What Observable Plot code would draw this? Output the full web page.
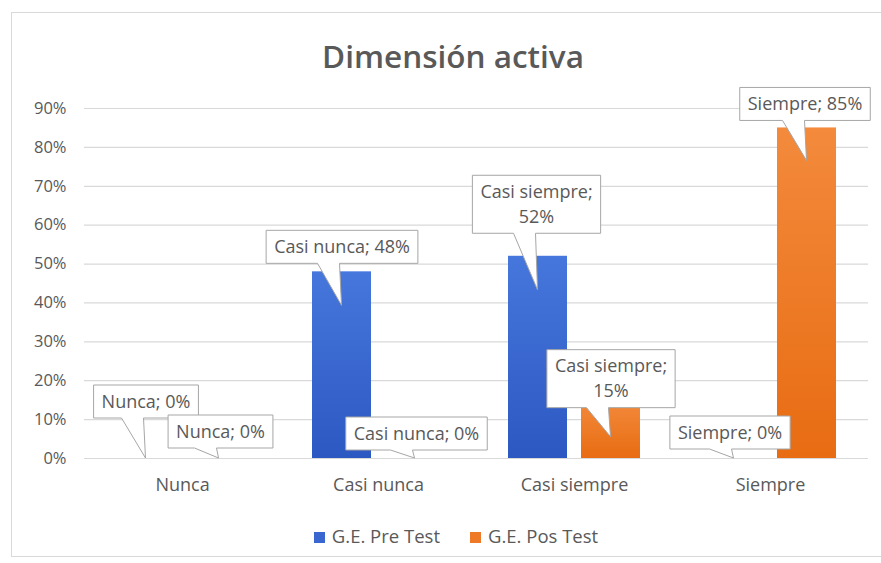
<!DOCTYPE html>
<html><head><meta charset="utf-8">
<script src="https://cdn.jsdelivr.net/npm/d3@7"></script>
<script src="https://cdn.jsdelivr.net/npm/@observablehq/plot@0.6"></script>
<style>
body{margin:0;background:#fff;width:881px;height:563px;overflow:hidden;position:relative;font-family:"Open Sans",sans-serif;}
#frame{position:absolute;left:11px;top:12px;width:880px;height:545px;border:1px solid #d9d9d9;border-right:none;box-sizing:border-box;}
#title{position:absolute;left:0;width:906px;top:35px;text-align:center;font-size:31.5px;font-weight:600;color:#595959;line-height:42px;}
#chart{position:absolute;left:0;top:80px;}
#legend{position:absolute;top:523px;left:0;width:912px;text-align:center;font-size:18.5px;color:#595959;line-height:26px;white-space:nowrap;}
#legend .sw{display:inline-block;width:11px;height:11px;margin-right:7px;vertical-align:0px;}
#legend .it{margin:0 15px;}
</style></head>
<body>
<div id="frame"></div>
<div id="title">Dimensión activa</div>
<div id="chart"></div>
<div id="legend"><span class="it"><span class="sw" style="background:#3a67cf"></span>G.E. Pre Test</span><span class="it"><span class="sw" style="background:#ee7a28"></span>G.E. Pos Test</span></div>
<script>
// ---- data ----
const categories = ["Nunca", "Casi nunca", "Casi siempre", "Siempre"];
const seriesNames = ["G.E. Pre Test", "G.E. Pos Test"];
const preTest = [0, 0.48, 0.52, 0];
const posTest = [0, 0, 0.15, 0.85];
const yTicks = [0, 0.1, 0.2, 0.3, 0.4, 0.5, 0.6, 0.7, 0.8, 0.9];

// ---- callout layout (pixel offsets of each label box from its bar top) ----
const preLabelDx = [0.5, 0.5, -1, -3.5];
const preLabelDy = [-56.5, -24.5, -51.5, -25.5];
const preTipDy = [0, 34, 34, 0];
const preWrap = [false, false, true, false];
const posLabelDx = [2, 2, 0.5, -1.5];
const posLabelDy = [-26.5, -24.5, -21, -23.5];
const posTipDy = [0, 0, 37, 33];
const posWrap = [false, false, true, false];

const preRows = categories.map((c, i) => ({category: c, value: preTest[i], side: -1, dx: preLabelDx[i], dy: preLabelDy[i], tip: preTipDy[i], wrap: preWrap[i]}));
const posRows = categories.map((c, i) => ({category: c, value: posTest[i], side: 1, dx: posLabelDx[i], dy: posLabelDy[i], tip: posTipDy[i], wrap: posWrap[i]}));
const allRows = preRows.concat(posRows);

const INNER = 32, OUTER = 105; // bar insets within each category band
const pct = d3.format(".0%");

function defsMark() {
  const defs = d3.create("svg:defs");
  const g1 = defs.append("linearGradient").attr("id", "gradPre").attr("x1", 0).attr("y1", 0).attr("x2", 0).attr("y2", 1);
  g1.append("stop").attr("offset", "0%").attr("stop-color", "#4677dc");
  g1.append("stop").attr("offset", "100%").attr("stop-color", "#2c58c2");
  const g2 = defs.append("linearGradient").attr("id", "gradPos").attr("x1", 0).attr("y1", 0).attr("x2", 0).attr("y2", 1);
  g2.append("stop").attr("offset", "0%").attr("stop-color", "#f38a3c");
  g2.append("stop").attr("offset", "100%").attr("stop-color", "#e86c12");
  return defs.node();
}

function calloutMark(index, scales) {
  const g = d3.create("svg:g").attr("class", "callouts");
  const bw = scales.x.bandwidth();
  const barW = bw - INNER - OUTER;
  for (const r of allRows) {
    const left = r.side < 0 ? INNER : OUTER;
    const cx = scales.x(r.category) + left + barW / 2;
    const cy = scales.y(r.value);
    const c = g.append("g").attr("class", "callout")
      .attr("data-bx", cx + r.dx).attr("data-by", cy + r.dy)
      .attr("data-tx", cx).attr("data-ty", cy + r.tip);
    c.append("path").attr("fill", "#fff").attr("stroke", "#a6a6a6").attr("stroke-width", 1);
    const lines = r.wrap ? [r.category + ";", pct(r.value)] : [r.category + "; " + pct(r.value)];
    const t = c.append("text").attr("text-anchor", "middle").attr("fill", "#595959")
      .attr("font-size", 18).attr("x", cx + r.dx);
    lines.forEach((ln, k) => {
      t.append("tspan").attr("x", cx + r.dx)
        .attr("y", cy + r.dy + (k - (lines.length - 1) / 2) * 25)
        .attr("dy", "0.35em").text(ln);
    });
  }
  return g.node();
}

const chart = Plot.plot({
  width: 881, height: 430,
  marginLeft: 84, marginRight: 13, marginTop: 28, marginBottom: 52,
  style: {fontFamily: "'Open Sans', sans-serif", fontSize: "16.5px", color: "#595959", background: "transparent", overflow: "visible"},
  x: {domain: categories, padding: 0, label: null, tickSize: 0, tickPadding: 20},
  y: {domain: [0, 0.9], ticks: yTicks, tickFormat: pct, tickSize: 0, tickPadding: 18, label: null},
  marks: [
    defsMark,
    Plot.ruleY(yTicks, {stroke: "#d9d9d9", strokeWidth: 1.2}),
    Plot.barY(preRows, {x: "category", y: "value", fill: "url(#gradPre)", insetLeft: INNER, insetRight: OUTER}),
    Plot.barY(posRows, {x: "category", y: "value", fill: "url(#gradPos)", insetLeft: OUTER, insetRight: INNER}),
    calloutMark
  ]
});
document.getElementById("chart").appendChild(chart);

// larger category labels on the x axis
d3.select(chart).selectAll('g[aria-label^="x-axis"]').attr("font-size", "18px");

// size each callout box around its text, with a wedge pointing to the bar
document.querySelectorAll("g.callout").forEach(node => {
  const bx = +node.getAttribute("data-bx"), by = +node.getAttribute("data-by");
  const tx = +node.getAttribute("data-tx"), ty = +node.getAttribute("data-ty");
  const bb = node.querySelector("text").getBBox();
  const w = bb.width + 16, h = bb.height + 9;
  const L = bx - w / 2, R = bx + w / 2, T = by - h / 2, B = by + h / 2;
  let b0 = Math.max(L + 3, Math.min(R - 26, tx - 24));
  const b1 = b0 + 22;
  const p = `M${L},${T}H${R}V${B}H${b1}L${tx},${ty}L${b0},${B}H${L}Z`;
  node.querySelector("path").setAttribute("d", p);
});
</script>
</body></html>
